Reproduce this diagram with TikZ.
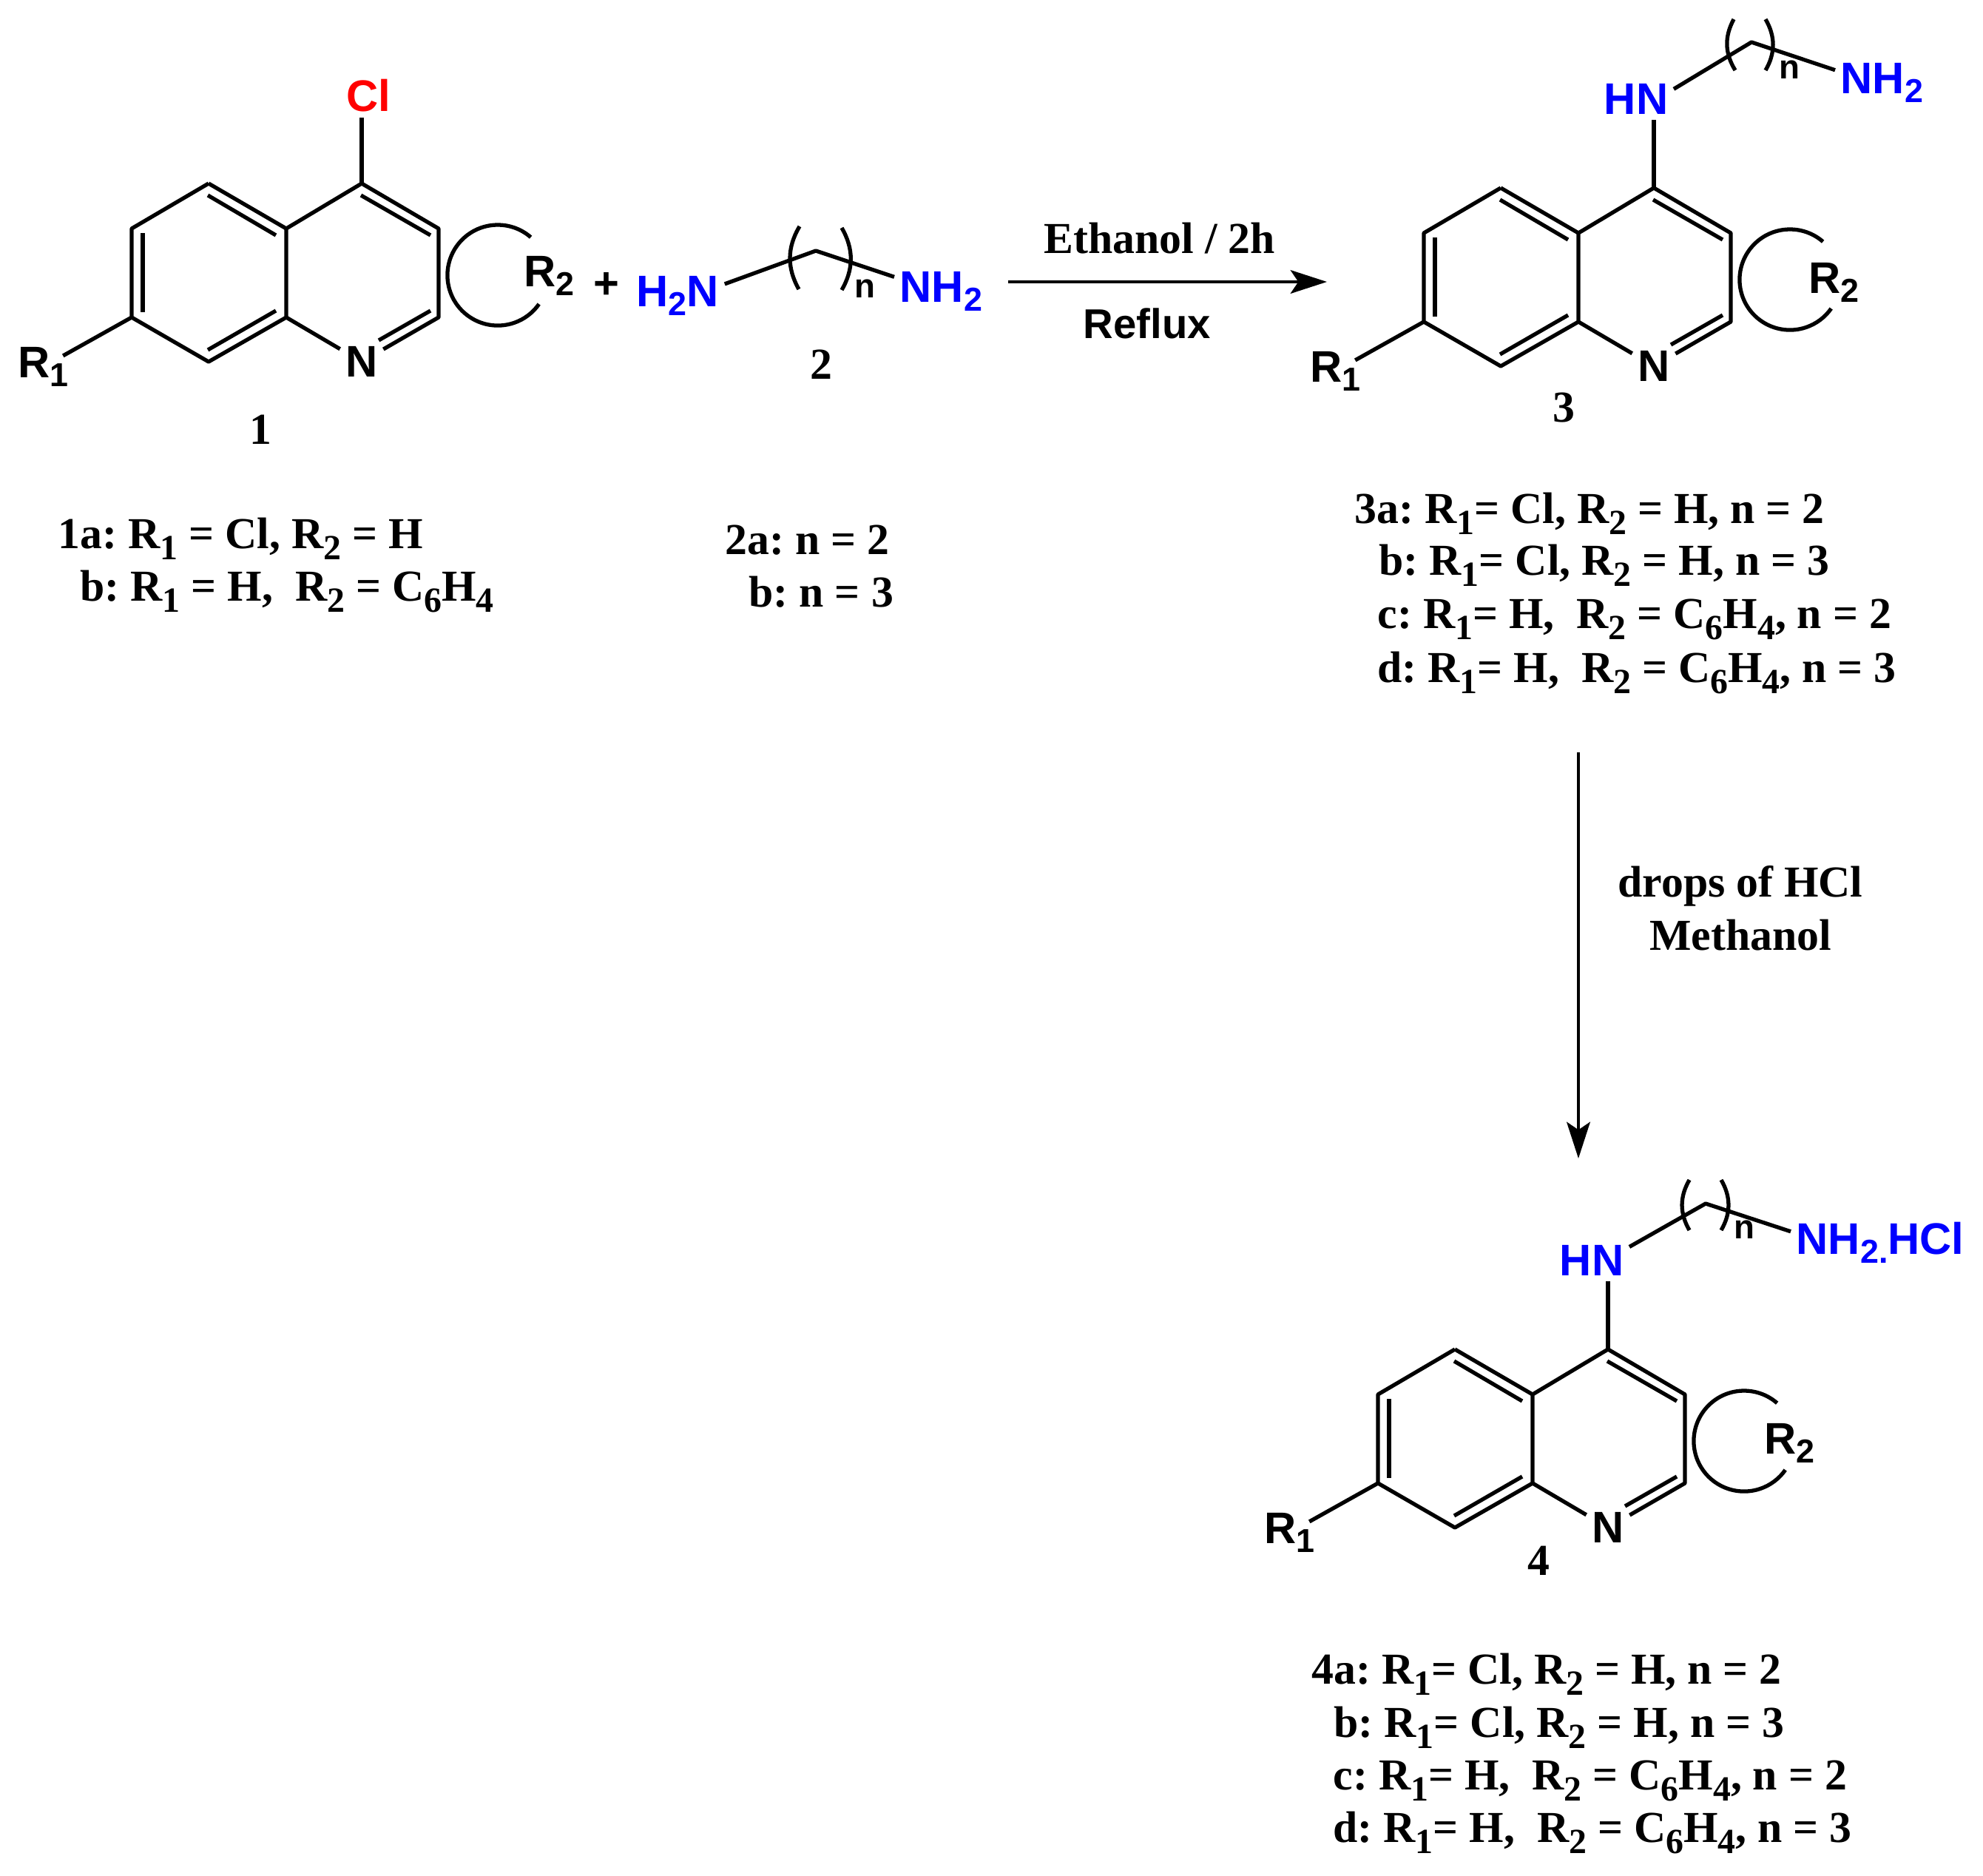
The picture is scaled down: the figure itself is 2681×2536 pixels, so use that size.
\documentclass[tikz,border=0pt]{standalone}
\usepackage{fontspec}
\setmainfont{Liberation Serif}
\setsansfont{Liberation Sans}
\usetikzlibrary{arrows.meta}
\newcommand{\sbs}[1]{\raisebox{-.26em}{\scalebox{.8}{#1}}}
\newcommand{\atm}[1]{\raisebox{-.21em}{\scalebox{.75}{#1}}}
\newcommand{\quinoline}[4]{
\begin{scope}[shift={(#2,#3)}]
	\coordinate (#1c4) at (0,0);
	\coordinate (#1c5) at (-207,0);
	\coordinate (#1c6) at (-311,61);
	\coordinate (#1c7) at (-311,181);
	\coordinate (#1c8) at (-207,241);
	\coordinate (#1c4a) at (-102,61);
	\coordinate (#1c8a) at (-102,181);
	\coordinate (#1c3) at (104,61);
	\coordinate (#1c2) at (104,181);
	\node[atom] (#1n) at (0,241) {N};
	\node[atom,anchor=base west] (#1ra) at (-472,262) {R\atm{1}};
	\node[atom,anchor=base west] (#1rb) at (#4) {R\atm{2}};
	\draw[bond] (#1c5) -- (#1c6) -- (#1c7) -- (#1c8) -- (#1c8a) -- (#1c4a) -- (#1c4) -- (#1c3) -- (#1c2) -- (#1n);
	\draw[bond] (#1c4a) -- (#1c5);
	\draw[bond] (#1c8a) -- (#1n);
	\draw[bond,shorten >=-5pt] (#1c7) -- (#1ra);
	\draw[bond] (-1,16) -- (93,70);
	\draw[bond] (-208,16) -- (-116,70);
	\draw[bond] (-296,67) -- (-296,174);
	\draw[bond] (-208,225) -- (-116,172);
	\draw[bond] (23,212) -- (93,172);
	\draw[bond] (228.6,72.7) arc[start angle=49,end angle=325,radius=.68cm];
\end{scope}
}
\begin{document}
\begin{tikzpicture}[x=0.01cm,y=-0.01cm,
	atom/.style={inner sep=2pt,font=\sffamily\bfseries\fontsize{17}{20}\selectfont},
	amine/.style={atom,text=blue},
	idx/.style={inner sep=0pt,anchor=base west,font=\sffamily\bfseries\fontsize{13}{15}\selectfont},
	caption/.style={inner sep=0pt,anchor=base west,font=\bfseries\frenchspacing\fontsize{17}{20}\selectfont},
	number/.style={inner sep=0pt,anchor=base,font=\bfseries\fontsize{17}{20}\selectfont},
	bond/.style={line width=1.5pt,line join=round},
	rxn/.style={line width=1.25pt,-{Stealth[length=14pt,width=9pt,inset=3pt]}}]
\useasboundingbox (0,0) rectangle (2681,2536);
\quinoline{a}{489}{248}{212,139}
\node[atom,text=red] (cl) at (498,129) {Cl};
\draw[bond] (ac4) -- (ac4 |- cl.south);
\node[number] (na) at (352,600) {1};
\node[caption] (la) at (78,741) {1a: R\sbs{1} = Cl, R\sbs{2} = H};
\node[caption] (lb) at (108,812) {b: R\sbs{1} = H,~ R\sbs{2} = C\sbs{6}H\sbs{4}};
\node[atom] (plus) at (820,386) {+};
\node[amine,anchor=base west] (bl) at (853,414) {H\atm{2}N};
\node[amine,anchor=base west] (br) at (1209,408) {NH\atm{2}};
\coordinate (bm) at (1103,339);
\draw[bond] (bl.14) -- (bm) -- (br.163);
\draw[bond] (1081,306) to[bend right=30] (1080,391);
\draw[bond] (1138,308) to[bend left=30] (1138,392);
\node[idx] (bn) at (1155,402) {n};
\node[number] (nb) at (1110,512) {2};
\node[caption] (lc) at (980,749) {2a: n = 2};
\node[caption] (ld) at (1012,820) {b: n = 3};
\coordinate (ra) at (1363,381);
\coordinate (rb) at (1794,381);
\draw[rxn] (ra) -- (rb);
\node[caption] (eth) at (1411,342) {Ethanol / 2h};
\node[atom,anchor=base west,inner sep=0pt,font=\sffamily\bfseries\fontsize{16}{19}\selectfont] (ref) at (1464,457) {Reflux};
\quinoline{c}{2236}{254}{202,142}
\node[amine] (chn) at (2212,134) {HN};
\node[amine,anchor=base west] (cr) at (2481,126) {NH\atm{2}};
\coordinate (cm) at (2368,57);
\draw[bond] (cc4) -- (cc4 |- chn.south);
\draw[bond] (chn.15) -- (cm) -- (cr.165);
\draw[bond] (2344,26) to[bend right=30] (2346,95);
\draw[bond] (2387,26) to[bend left=30] (2387,95);
\node[idx] (cn) at (2405,106) {n};
\node[number] (nc) at (2114,570) {3};
\node[caption] (le) at (1831,707) {3a: R\sbs{1}= Cl, R\sbs{2} = H, n = 2};
\node[caption] (lf) at (1864,777) {b: R\sbs{1}= Cl, R\sbs{2} = H, n = 3};
\node[caption] (lg) at (1862,849) {c: R\sbs{1}= H,~ R\sbs{2} = C\sbs{6}H\sbs{4}, n = 2};
\node[caption] (lh) at (1862,922) {d: R\sbs{1}= H,~ R\sbs{2} = C\sbs{6}H\sbs{4}, n = 3};
\coordinate (va) at (2134,1017);
\coordinate (vb) at (2134,1566);
\draw[rxn] (va) -- (vb);
\node[caption,anchor=base] (dr) at (2353,1212) {drops of HCl};
\node[caption,anchor=base] (me) at (2353,1284) {Methanol};
\quinoline{d}{2174}{1824}{204,141}
\node[amine] (dhn) at (2152,1704) {HN};
\node[amine,anchor=base west] (dr2) at (2421,1695) {NH\atm{2.}HCl};
\coordinate (dm) at (2306,1627);
\draw[bond] (dc4) -- (dc4 |- dhn.south);
\draw[bond] (dhn.20) -- (dm) -- (dr2.173);
\draw[bond] (2284,1595) to[bend right=30] (2284,1663);
\draw[bond] (2327,1595) to[bend left=30] (2327,1663);
\node[idx] (dn) at (2344,1674) {n};
\node[number] (nd) at (2080,2129) {4};
\node[caption] (li) at (1773,2276) {4a: R\sbs{1}= Cl, R\sbs{2} = H, n = 2};
\node[caption] (lj) at (1803,2348) {b: R\sbs{1}= Cl, R\sbs{2} = H, n = 3};
\node[caption] (lk) at (1802,2419) {c: R\sbs{1}= H,~ R\sbs{2} = C\sbs{6}H\sbs{4}, n = 2};
\node[caption] (ll) at (1802,2490) {d: R\sbs{1}= H,~ R\sbs{2} = C\sbs{6}H\sbs{4}, n = 3};
\end{tikzpicture}
\end{document}
